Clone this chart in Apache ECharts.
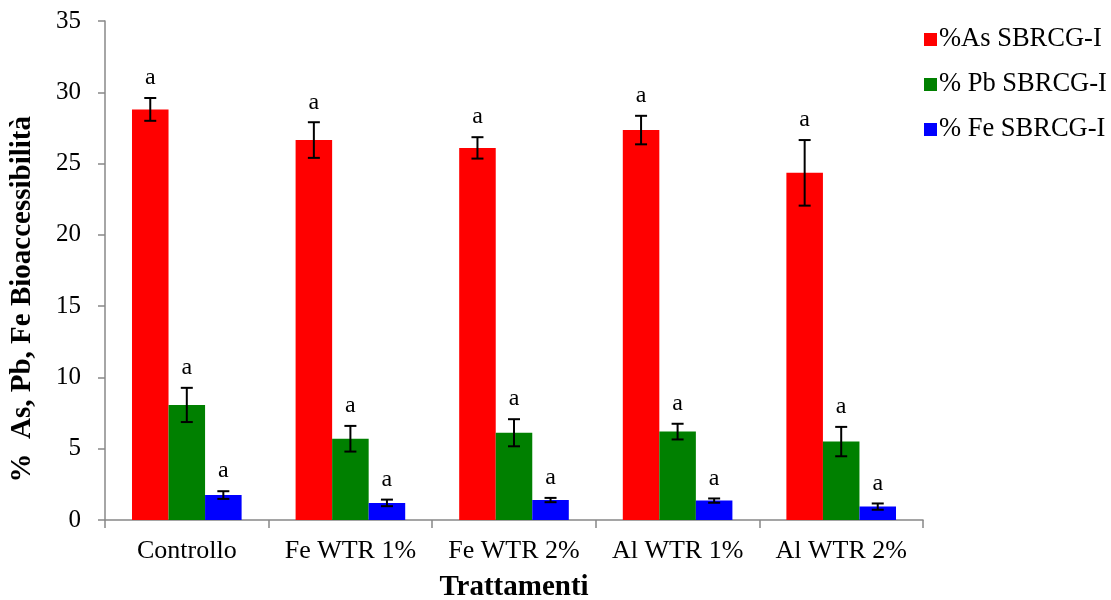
<!DOCTYPE html>
<html>
<head>
<meta charset="utf-8">
<script src="https://cdn.jsdelivr.net/npm/echarts@6/dist/echarts.min.js"></script>
<style>html,body{margin:0;padding:0;background:#fff;}#chart{width:1111px;height:600px;}</style>
</head>
<body>
<div id="chart"></div>
<script>
const categories = ['Controllo', 'Fe WTR 1%', 'Fe WTR 2%', 'Al WTR 1%', 'Al WTR 2%'];
const seriesNames = ['%As SBRCG-I', '% Pb SBRCG-I', '% Fe SBRCG-I'];
const asMean = [28.8, 26.65, 26.1, 27.35, 24.35];
const asErr  = [0.8, 1.25, 0.75, 1.0, 2.3];
const pbMean = [8.07, 5.7, 6.12, 6.2, 5.5];
const pbErr  = [1.2, 0.9, 0.95, 0.55, 1.03];
const feMean = [1.75, 1.2, 1.4, 1.36, 0.94];
const feErr  = [0.27, 0.23, 0.15, 0.15, 0.22];
const letters = [['a','a','a','a','a'], ['a','a','a','a','a'], ['a','a','a','a','a']];
const yTicks = [0, 5, 10, 15, 20, 25, 30, 35];
const yTitle = '%  As, Pb, Fe Bioaccessibilità';
const xTitle = 'Trattamenti';

const colors = ['#FF0000', '#008000', '#0000FF'];
const means = [asMean, pbMean, feMean];
const errs = [asErr, pbErr, feErr];
const FONT = "'Liberation Serif', 'Times New Roman', serif";
const CAT_GAP = 0.33;

const chart = echarts.init(document.getElementById('chart'));

function errSeries(k) {
  return {
    type: 'custom',
    name: seriesNames[k] + ' err',
    z: 10,
    silent: true,
    data: means[k].map((m, i) => [i, m, errs[k][i]]),
    renderItem: function (params, api) {
      const i = api.value(0), m = api.value(1), e = api.value(2);
      const band = api.size([1, 0])[0];
      const bw = band * (1 - CAT_GAP) / 3;
      const c = api.coord([i, m]);
      const x = c[0] + (k - 1) * bw;
      const yTop = api.coord([i, m + e])[1];
      const yBot = api.coord([i, m - e])[1];
      const cap = 6;
      const st = { stroke: '#000', lineWidth: 2 };
      return {
        type: 'group',
        children: [
          { type: 'line', shape: { x1: x, y1: yTop, x2: x, y2: yBot }, style: st },
          { type: 'line', shape: { x1: x - cap, y1: yTop, x2: x + cap, y2: yTop }, style: st },
          { type: 'line', shape: { x1: x - cap, y1: yBot, x2: x + cap, y2: yBot }, style: st },
          { type: 'text', style: { text: letters[k][i], x: x, y: yTop - 20, align: 'center', verticalAlign: 'middle', fill: '#000', font: '24px ' + FONT } }
        ]
      };
    }
  };
}

const barSeries = seriesNames.map((n, k) => ({
  type: 'bar',
  name: n,
  data: means[k],
  barGap: '0%',
  barCategoryGap: (CAT_GAP * 100) + '%',
  itemStyle: { color: colors[k] }
}));

chart.setOption({
  animation: false,
  backgroundColor: '#fff',
  textStyle: { fontFamily: FONT },
  grid: { left: 105, right: 188, top: 21, bottom: 80, containLabel: false, outerBoundsMode: 'none' },
  graphic: [{
    type: 'text',
    left: 8,
    top: 116,
    rotation: Math.PI / 2,
    style: { text: yTitle, font: 'bold 29px ' + FONT, fill: '#000' }
  }],
  legend: {
    data: seriesNames,
    orient: 'vertical',
    left: 919,
    top: 21,
    itemWidth: 13,
    itemHeight: 13,
    itemGap: 18,
    icon: 'rect',
    textStyle: { fontFamily: FONT, fontSize: 26.5, color: '#000', padding: [0, 0, 0, -3] }
  },
  xAxis: {
    type: 'category',
    data: categories,
    name: xTitle,
    nameLocation: 'middle',
    nameGap: 53,
    nameTextStyle: { fontFamily: FONT, fontSize: 29, fontWeight: 'bold', color: '#000' },
    axisLine: { lineStyle: { color: '#888', width: 1.5 } },
    axisTick: { show: true, interval: 0, length: 8, lineStyle: { color: '#888', width: 1.5 } },
    axisLabel: { interval: 0, fontFamily: FONT, fontSize: 26, color: '#000', margin: 18 }
  },
  yAxis: {
    type: 'value',
    min: 0,
    max: 35,
    interval: 5,
    splitLine: { show: false },
    axisLine: { show: true, lineStyle: { color: '#888', width: 1.5 } },
    axisTick: { show: true, length: 7, lineStyle: { color: '#888', width: 1.5 } },
    axisLabel: { fontFamily: FONT, fontSize: 25, color: '#000', margin: 24,
      formatter: v => (yTicks.indexOf(v) >= 0 ? String(v) : '') }
  },
  series: barSeries.concat([0, 1, 2].map(errSeries))
});
</script>
</body>
</html>
